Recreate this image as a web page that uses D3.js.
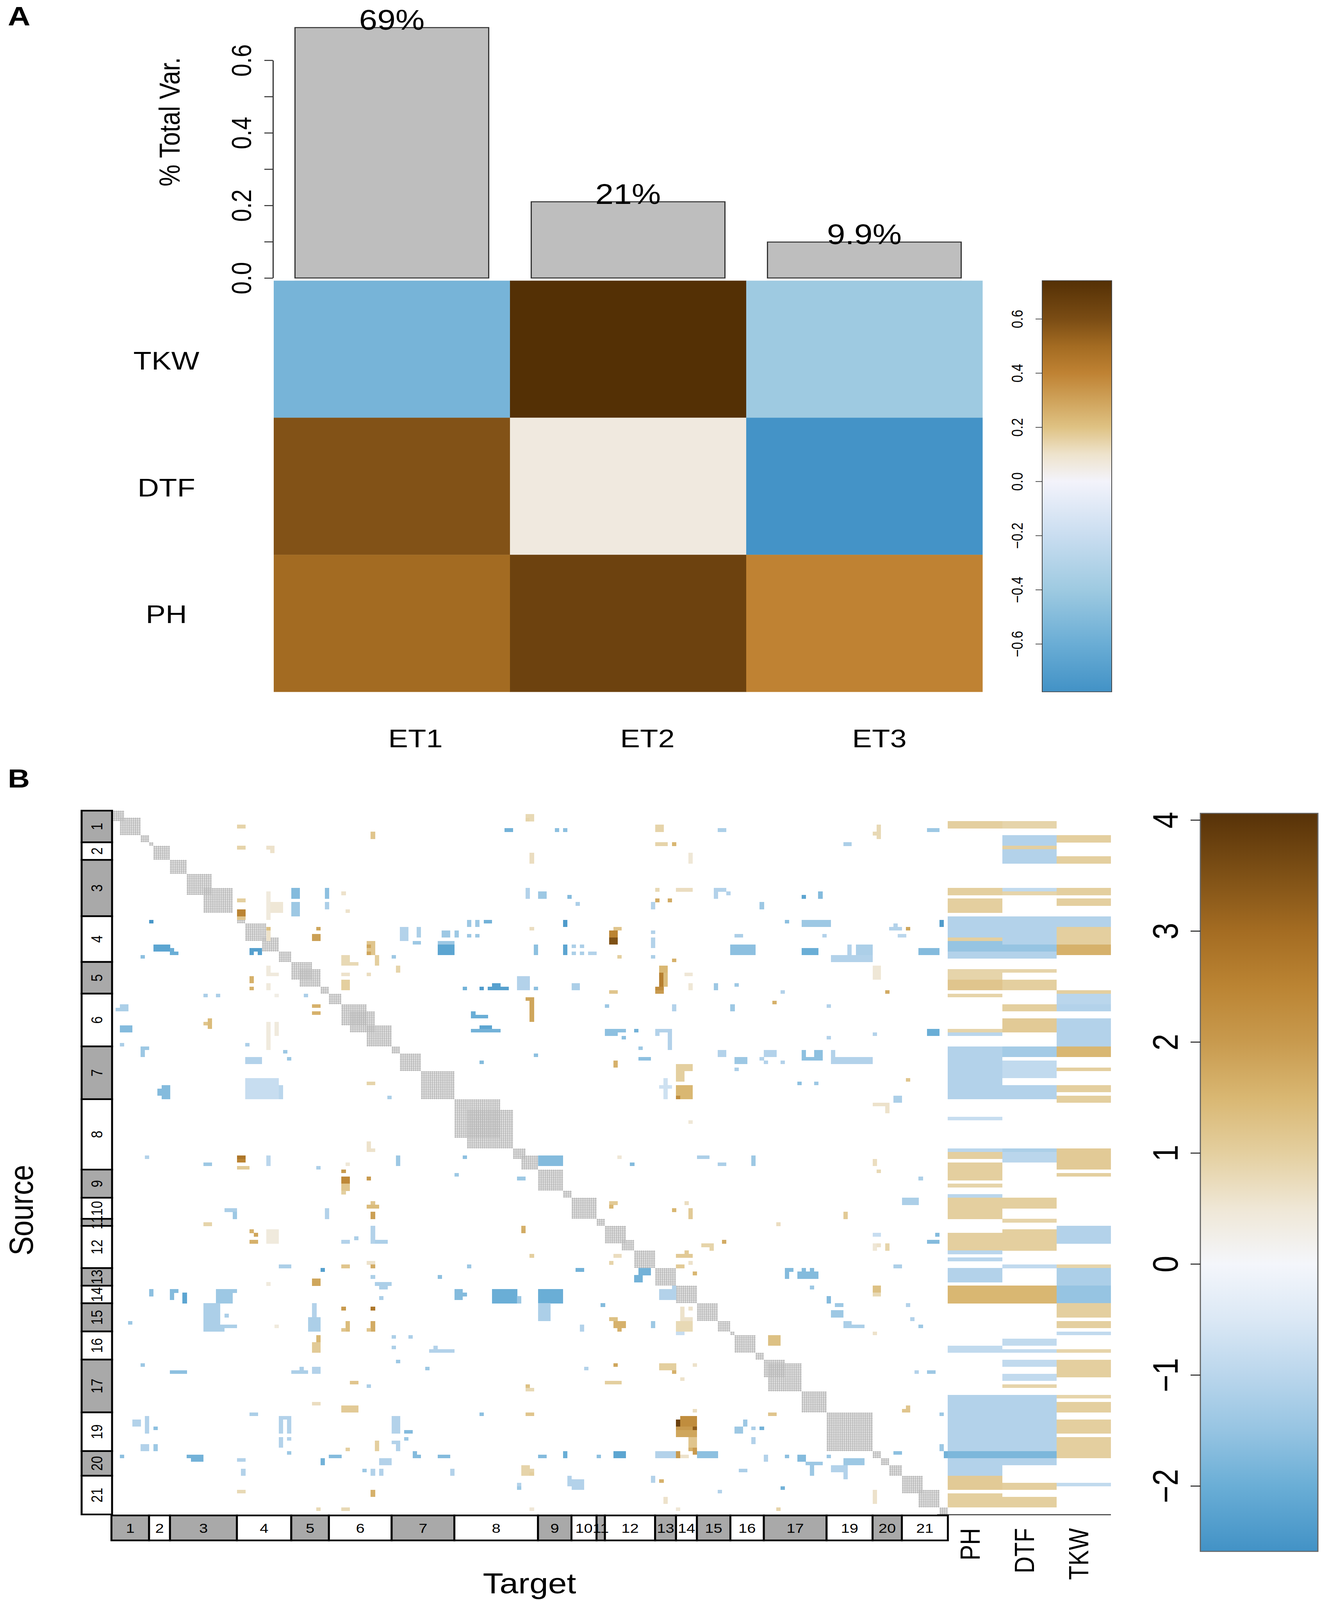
<!DOCTYPE html>
<html>
<head>
<meta charset="utf-8">
<script src="https://cdn.jsdelivr.net/npm/d3@7"></script>
<style>
  html, body { margin: 0; padding: 0; background: #fff; overflow: hidden; }
  svg { display: block; }
  svg text { font-family: "Liberation Sans", Arial, Helvetica, sans-serif; fill: #000; }
</style>
</head>
<body>
<div id="chart"></div>
<script>
// ---------- panel A data ----------
const etNames = ["ET1", "ET2", "ET3"];
const varExplained = [0.69, 0.21, 0.099];
const varLabels = ["69%", "21%", "9.9%"];
const traitsA = ["TKW", "DTF", "PH"];
const loadTKW = [-0.55, 0.74, -0.40];
const loadDTF = [0.58, 0.06, -0.77];
const loadPH = [0.50, 0.65, 0.40];
const barTicks = [0, 0.1, 0.2, 0.3, 0.4, 0.5, 0.6];
const barTickLabels = [0, 0.2, 0.4, 0.6];
const cbTicksA = [-0.6, -0.4, -0.2, 0, 0.2, 0.4, 0.6];
const cbStopsA = [-0.777, -0.6, -0.4, -0.2, 0, 0.1, 0.2, 0.3, 0.4, 0.5, 0.6, 0.741];
const cbColorsA = ["#4292c6", "#6aadd5", "#9ecae1", "#c9ddf0", "#f3f3fb", "#eee3cc",
                   "#dfc283", "#cfa25a", "#bf8233", "#a36b22", "#7a4c14", "#543005"];

// ---------- panel B data ----------
const chromNames = ["1","2","3","4","5","6","7","8","9","10","11","12","13","14","15","16","17","19","20","21"];
const chromMarkers = [9, 5, 16, 13, 9, 15, 15, 20, 8, 6, 2, 12, 5, 5, 8, 8, 15, 11, 7, 11];
// linked (masked) diagonal blocks [from, to)
const linkedBlocks = [[0,3],[2,7],[7,9],[9,10],[10,14],[14,18],[18,24],[22,29],[30,32],[32,37],[36,40],
  [40,43],[43,48],[45,50],[50,52],[52,55],[55,61],[57,63],[61,67],[67,69],[69,74],[74,82],[82,93],[85,96],
  [96,99],[98,102],[102,108],[108,110],[110,116],[116,118],[118,123],[122,125],[125,130],[130,135],[135,140],
  [140,145],[145,148],[148,149],[149,154],[154,156],[156,161],[157,165],[165,171],[171,182],[182,184],
  [184,186],[186,189],[189,194],[193,198],[198,200]];
// epistatic effects: [sourceFrom, sourceTo, targetFrom, targetTo, effect]
const effectPatches = [
  [4,5,30,32,0.9],[6,8,62,63,1.2],[5,6,94,96,-1.9],[10,11,30,32,0.9],[10,11,37,39,0.6],[11,12,38,39,0.6],
  [22,25,43,45,-1.7],[26,30,43,45,-1.4],[22,25,51,52,-1.6],[26,28,51,52,-1.2],[23,24,55,56,0.6],[28,29,56,57,0.6],
  [25,26,30,32,1.0],[28,30,30,32,2.5],[30,31,30,32,1.2],[23,31,37,38,0.4],[26,29,38,41,0.5],[31,32,9,10,-2.5],
  [38,40,10,14,-2.2],[39,40,14,15,-2.0],[40,41,14,16,-2.0],[41,42,7,8,-1.6],[39,40,33,36,-2.3],[40,41,33,34,-2.3],
  [40,41,35,36,-2.3],[33,34,37,38,1.3],[34,37,37,38,0.6],[33,34,49,50,1.8],[35,37,48,50,1.9],[37,41,61,63,1.2],
  [38,39,61,62,1.8],[40,41,61,62,1.8],[41,44,63,64,1.0],[41,44,55,57,0.8],[43,44,57,59,0.8],[41,42,67,68,-1.4],
  [44,46,68,69,0.9],[46,47,61,62,0.7],[46,47,55,57,0.6],[48,51,55,57,1.0],[44,47,37,38,0.4],[46,47,38,40,0.4],
  [47,49,33,34,1.6],[50,51,33,34,1.6],[49,51,37,38,0.4],[52,53,39,40,0.3],[52,53,22,23,-1.2],[52,53,25,26,-1.2],
  [52,53,46,47,-1.2],[50,51,84,85,-1.9],[50,51,88,89,-2.4],[49,50,91,93,-2.3],[50,51,90,95,-2.3],[47,51,98,100,-1.2],
  [55,56,2,4,-1.2],[56,57,1,4,-1.2],[61,63,2,5,-1.7],[66,67,2,3,-1.2],[67,70,7,8,-1.4],[67,68,8,9,-1.4],
  [59,62,23,24,1.4],[60,61,22,23,1.2],[60,68,37,38,0.4],[60,64,39,40,0.4],[55,56,48,50,1.6],[57,58,48,50,1.6],
  [66,67,32,33,-1.2],[68,69,41,42,-1.4],[70,71,42,43,-1.4],[70,72,32,36,-1.1],[76,82,32,40,-0.8],[78,82,40,41,-1.0],
  [78,82,12,14,-1.7],[79,81,11,12,-1.7],[77,78,61,63,0.9],[81,82,66,67,-1.2],[57,59,86,87,-2.0],[58,59,87,90,-2.0],
  [61,62,88,91,-2.2],[62,63,86,93,-1.9],[71,72,88,89,-1.7],[31,33,85,86,-1.4],[31,33,87,88,-1.4],[31,32,89,91,-1.9],
  [35,36,85,86,-1.4],[35,36,87,88,-1.4],[33,37,69,71,-1.1],[33,36,73,74,-1.2],[37,38,72,74,-1.4],[38,41,78,82,-2.2],
  [37,38,78,82,-1.4],[34,36,79,81,-1.4],[34,36,82,83,-1.4],[1,3,99,100,0.9],[98,101,68,69,-1.4],[98,100,30,32,2.8],
  [98,101,37,38,-1.0],[98,99,8,9,-1.1],[98,99,84,85,-1.6],[94,97,61,62,0.6],[96,97,62,63,0.6],
  [100,101,22,24,-1.4],[99,100,30,32,2.5],[101,102,30,33,1.1],[99,100,37,38,-1.0],[101,102,49,50,-1.2],
  [100,101,56,57,0.5],[102,103,55,56,2.0],[104,106,55,57,2.4],[106,108,55,57,1.2],[108,109,55,56,1.0],
  [104,105,61,62,2.0],[111,112,62,63,1.2],[112,113,61,64,1.4],[114,116,62,63,1.9],[113,114,27,30,-1.2],
  [114,116,29,30,-1.4],[113,116,51,52,-1.1],[117,118,22,24,0.9],[119,120,33,34,1.6],[120,121,34,35,1.8],
  [122,123,33,35,1.6],[119,123,37,40,0.4],[122,123,55,57,-1.1],[121,122,58,59,-1.2],[118,123,62,63,-1.1],
  [122,123,63,66,-1.2],[119,120,98,99,1.7],[129,130,40,43,-1.2],[130,131,50,51,-2.3],[129,130,55,57,1.2],
  [128,129,61,63,0.6],[129,130,62,63,1.7],[132,133,62,63,-1.2],[134,135,63,67,-1.2],[135,136,64,66,-1.2],
  [132,133,78,79,-1.6],[129,130,85,86,-1.4],[133,135,48,50,1.8],[134,135,37,38,0.4],[136,138,9,10,-1.6],
  [136,139,14,15,-1.7],[136,137,15,16,-1.7],[137,140,17,18,-2.2],[136,137,25,30,-1.4],[137,140,25,29,-1.4],
  [140,146,22,26,-1.2],[146,148,22,27,-1.2],[146,147,27,30,-1.2],[143,144,27,28,-1.2],[145,146,4,5,-1.4],
  [138,139,64,65,-1.2],[136,139,82,84,-1.7],[137,138,84,85,-1.7],[136,140,91,97,-2.0],[138,140,97,98,-2.0],
  [141,142,55,56,2.0],[141,142,62,63,2.8],[140,147,48,49,-1.1],[144,148,47,50,-1.2],[145,148,56,57,1.4],
  [147,148,55,56,1.2],[145,148,62,63,1.7],[147,148,61,62,1.2],[146,147,39,40,0.4],[149,151,49,50,1.5],
  [151,154,48,50,1.1],[149,150,67,68,-1.2],[149,150,71,72,-1.2],[152,153,67,68,-1.2],[153,154,76,82,-1.1],
  [152,153,77,78,-1.1],[157,158,7,8,-1.4],[159,160,14,18,-1.6],[159,160,43,47,-1.2],[158,159,45,46,-1.2],
  [158,160,48,50,-1.1],[156,157,68,69,-1.4],[158,159,75,76,-1.4],[162,163,57,59,1.2],[163,164,61,62,-1.2],
  [168,169,48,50,0.7],[169,171,55,59,1.1],[171,172,33,35,-1.2],[172,173,40,43,-1.1],[173,177,40,41,-1.1],
  [173,177,42,43,-1.1],[178,181,40,41,-1.1],[178,179,42,43,-1.1],[173,175,5,7,-1.1],[172,177,8,9,-1.1],
  [175,176,10,11,-1.6],[180,182,7,9,-1.1],[180,182,10,11,-1.4],[183,184,2,3,-1.6],[183,184,18,22,-1.9],
  [184,185,19,22,-1.9],[184,185,30,32,-1.1],[187,189,31,32,-1.1],[182,183,42,43,-1.4],[184,186,50,51,-1.9],
  [183,184,52,55,-1.7],[181,182,56,57,1.0],[179,182,63,64,1.0],[179,182,68,69,-1.1],[179,180,67,68,-1.1],
  [178,179,70,71,-1.4],[176,177,70,72,-1.7],[172,177,67,69,-1.1],[183,184,72,74,-1.7],[182,183,72,73,-1.7],
  [183,184,78,81,-1.7],[184,186,64,67,-1.1],[187,188,60,61,-1.4],[187,189,62,63,-1.1],[187,189,64,65,-1.1],
  [187,189,81,82,-1.1],[192,193,97,98,-1.4],[186,189,98,100,0.9],[193,194,30,32,0.8],[193,195,62,63,1.6],
  [198,199,49,50,0.8],[198,199,55,57,0.8],[103,104,82,83,-1.4],[104,105,97,99,-1.4],[163,165,99,100,0.9],
  [171,172,88,89,-1.6],
  [1,2,99,100,0.8],[1,3,100,101,0.8],[5,6,106,107,-1.6],[5,6,108,109,-1.6],[4,6,130,132,0.9],[9,10,130,133,0.9],
  [9,10,134,135,1.5],[5,6,145,147,-1.2],[4,8,183,184,0.8],[6,7,182,183,0.8],[5,6,195,198,-1.4],[9,10,175,177,-1.2],
  [12,15,100,101,0.7],[12,15,138,139,0.5],[22,25,99,100,-1.1],[23,25,102,104,-1.4],[24,25,109,110,-1.7],
  [26,27,111,112,-1.2],[22,23,130,131,0.8],[22,23,135,139,0.7],[25,26,130,131,1.7],[25,26,133,134,1.7],
  [26,28,129,130,-1.1],[22,23,144,147,-1.1],[23,25,144,145,-1.1],[23,24,147,148,-1.1],[26,28,155,156,-1.4],
  [24,25,165,166,-2.2],[23,25,169,170,-1.7],[31,33,108,109,-2.4],[33,34,100,101,0.7],[33,34,120,122,1.2],
  [34,36,119,121,2.5],[36,38,119,121,3.5],[41,42,121,122,1.0],[34,35,129,130,-1.1],[36,39,129,130,-1.1],
  [41,42,129,130,-1.2],[38,41,101,102,-1.6],[38,41,108,109,-2.2],[38,39,110,111,-1.2],[38,39,112,113,-1.2],
  [40,41,110,111,-1.2],[40,41,112,113,-1.2],[40,41,114,116,-1.1],[35,36,149,151,-1.2],[38,41,148,154,-1.6],
  [31,32,161,162,-1.6],[31,33,165,172,-1.4],[35,36,170,171,-1.1],[39,41,165,169,-2.0],[41,43,172,182,-1.1],
  [38,41,178,182,-1.2],[38,41,176,177,-1.1],[33,34,186,189,-1.1],[32,33,187,188,-1.1],[33,34,190,191,1.8],
  [35,36,188,190,-1.0],[39,41,193,198,-1.7],[31,33,198,199,-2.4],[42,43,134,135,1.6],[44,46,131,133,1.5],
  [46,50,131,132,2.6],[46,50,132,133,1.4],[50,51,130,132,2.3],[51,52,130,132,2.0],[46,47,137,139,0.5],
  [49,51,138,139,0.5],[51,52,119,121,1.2],[47,51,97,100,-1.1],[50,51,101,102,-1.6],[53,54,99,101,1.8],
  [54,60,100,101,1.8],[49,51,110,112,-1.2],[49,51,144,145,-1.4],[49,50,149,150,-1.4],[55,56,118,119,-1.4],
  [55,57,134,135,-1.1],[55,57,148,149,-1.4],[54,55,158,159,1.6],[51,52,160,161,-1.1],[55,56,171,172,-1.1],
  [51,52,185,186,1.7],[44,48,182,184,0.5],[62,63,118,123,-1.6],[63,64,118,121,-1.6],[64,65,122,123,-1.6],
  [62,63,125,126,-1.9],[62,63,130,134,-1.1],[63,64,130,131,-1.1],[63,68,133,134,-1.1],[67,68,126,127,-1.4],
  [70,71,126,129,-1.6],[69,70,101,102,-1.6],[71,73,120,121,1.6],[68,70,145,147,-1.1],[70,72,149,152,-1.4],
  [73,74,149,150,-1.2],[68,70,156,159,-1.1],[70,71,155,156,-1.1],[71,72,156,157,-1.1],[71,72,160,161,-1.1],
  [68,70,165,166,-1.6],[70,71,165,170,-1.6],[68,71,168,170,-1.6],[68,71,172,173,-1.1],[70,72,172,182,-1.1],
  [62,64,195,198,-2.0],[64,65,171,172,-1.1],[63,64,182,183,-1.1],[72,74,135,139,1.0],[74,77,135,137,1.0],
  [78,82,135,139,1.5],[81,82,135,136,2.3],[76,82,132,133,-0.7],[78,79,131,134,-0.7],[77,78,164,165,-1.6],
  [77,78,168,169,-1.4],[76,77,190,191,1.2],[81,83,187,189,-1.2],[83,84,182,186,0.6],[84,86,185,186,0.6],
  [88,89,138,139,0.5],[98,99,121,122,0.5],[98,101,102,108,-1.7],[98,99,140,143,-1.2],[98,101,153,154,-1.4],
  [99,101,182,183,0.7],
  [100,101,124,125,-1.7],[100,101,145,147,-1.2],[102,103,183,184,0.8],[104,105,193,194,-1.2],[118,119,98,99,1.6],
  [111,112,119,121,1.1],[112,113,119,120,1.5],[111,112,137,138,0.7],[113,114,134,135,1.5],[113,116,138,139,1.1],
  [114,116,175,176,1.1],[117,118,159,160,0.7],[110,112,189,193,-1.2],[120,121,182,184,-0.8],[120,121,197,198,-1.7],
  [122,123,195,198,-1.7],[122,123,146,147,1.7],[123,124,141,144,0.9],[124,125,143,144,0.9],[123,125,182,183,0.5],
  [123,124,183,184,0.6],[123,125,185,186,0.9],[126,127,100,101,1.0],[126,127,120,122,0.7],[128,129,119,120,0.9],
  [126,127,135,139,1.1],[125,126,137,138,1.1],[129,130,135,137,1.1],[128,129,138,139,0.6],[131,132,139,140,1.5],
  [130,131,111,113,-1.9],[130,132,126,129,-1.9],[132,134,125,127,-1.9],[129,130,187,189,-1.2],[130,133,161,162,-1.7],
  [130,131,162,163,-1.7],[131,133,164,169,-1.7],[130,131,165,166,-1.7],[130,131,167,168,-1.7],[135,136,167,168,-1.4],
  [136,139,131,135,-1.1],[135,136,134,135,-1.1],[136,140,102,108,-2.0],[140,145,102,105,-1.2],[138,140,97,98,-1.4],
  [140,141,117,118,-1.7],[138,140,171,172,-1.7],[140,141,173,175,-1.4],[142,144,172,175,-1.4],[146,147,175,180,-1.2],
  [145,146,175,177,-1.2],[140,141,190,191,-1.1],[144,145,191,192,-1.1],[146,147,193,194,-1.4],[135,137,182,184,1.3],
  [137,138,182,184,0.8],[141,144,136,137,0.6],[144,145,136,139,0.6],[141,142,138,139,0.6],[145,148,135,139,0.8],
  [148,149,135,137,-0.8],[144,145,119,121,1.3],[145,147,120,123,1.6],[147,148,121,122,1.6],[145,147,129,130,-1.4],
  [146,148,112,113,-1.1],[148,149,182,183,0.6],[149,152,157,160,1.3],[157,158,120,121,1.8],[157,159,131,135,1.0],
  [159,160,134,135,1.6],[158,159,113,114,-1.1],[157,158,139,140,0.6],[161,162,136,137,0.6],[162,163,118,122,1.0],
  [159,160,192,193,-1.1],[159,160,195,197,-1.4],[163,164,99,100,1.3],[164,165,99,101,0.8],[171,172,99,101,1.2],
  [170,171,139,140,0.7],[171,172,157,159,1.2],[170,171,189,191,1.2],[169,170,190,191,1.2],[171,172,198,199,-1.4],
  [172,175,136,140,2.3],[173,175,135,136,3.8],[175,176,139,140,3.3],[175,176,135,139,2.0],[176,178,135,140,1.8],
  [178,181,138,140,1.2],[181,183,139,140,2.0],[181,182,138,139,1.6],[173,175,151,152,-1.4],[175,177,149,151,-1.4],
  [175,176,153,154,-1.2],[175,176,155,156,-1.9],[178,180,153,154,-1.1],[180,182,198,199,-1.4],[182,184,199,200,-1.9],
  [183,184,102,104,-1.7],[182,184,108,109,-2.0],[183,184,116,117,-1.6],[182,184,120,123,-2.2],[182,184,130,135,-1.1],
  [182,184,135,136,2.0],[183,184,136,138,0.6],[182,184,140,145,-1.6],[183,185,156,157,-1.1],[183,184,161,162,-1.6],
  [183,185,164,166,-1.7],[185,186,166,170,-1.4],[186,189,167,168,-1.4],[183,184,171,172,-1.4],[184,186,175,180,-1.4],
  [186,188,172,176,-1.1],[188,190,175,176,-1.1],[182,183,187,189,-1.6],[187,188,150,152,-1.2],[187,188,98,101,0.9],
  [188,189,100,101,1.0],[189,192,109,110,-1.1],[190,193,110,113,-1.1],[191,192,97,98,-1.1],[189,191,129,130,-1.1],
  [190,191,131,132,1.6],[192,193,160,161,-1.9],[193,194,145,146,-1.1],[195,197,132,133,0.6],[193,197,182,183,0.6],
  [198,199,100,101,0.5],[198,199,135,136,0.5],[198,199,159,160,0.9]
];
// single-locus effects per trait: [markerFrom, markerTo, effect]
const stripesPH = [[3,5,1.0],[22,24,1.0],[25,29,1.0],[30,33,-1.1],[33,36,-1.1],[36,37,1.0],[37,40,-1.5],[40,42,-1.1],
  [45,48,0.9],[48,51,1.2],[52,53,0.9],[62,63,0.9],[63,64,-1.0],[67,76,-1.1],[76,82,-1.1],[87,88,-0.8],[96,97,-1.0],
  [97,99,1.0],[100,105,1.0],[106,107,0.9],[109,110,-1.0],[110,116,1.0],[120,125,1.0],[125,126,-1.0],[127,128,-1.0],
  [130,134,-1.1],[135,140,1.5],[152,154,-0.9],[166,182,-1.1],[182,184,-1.8],[184,189,-1.1],[189,193,1.1],[194,198,1.0]];
const stripesDTF = [[3,5,0.9],[7,10,-1.1],[10,11,1.0],[11,15,-1.1],[22,23,-0.9],[23,24,0.9],[30,33,-1.1],[33,38,-1.1],
  [38,40,-1.5],[40,42,-1.1],[45,46,0.9],[48,51,1.0],[55,57,1.0],[59,63,1.1],[67,70,-1.3],[71,72,-0.9],[72,76,-0.9],
  [78,82,-1.1],[96,97,-1.2],[97,100,-1.0],[110,113,1.0],[116,117,0.9],[119,125,1.0],[129,130,-0.9],[135,140,1.5],
  [150,152,-0.9],[153,154,-0.9],[156,158,-0.9],[160,162,-0.9],[163,164,0.9],[166,182,-1.1],[182,184,-1.8],
  [184,186,-1.1],[191,193,1.0],[195,198,1.0]];
const stripesTKW = [[7,9,1.0],[13,15,1.0],[22,24,1.0],[25,27,1.0],[30,33,-1.1],[33,38,1.0],[38,41,1.6],[51,52,1.0],
  [52,55,-1.0],[55,57,-1.1],[59,67,-1.1],[67,70,1.5],[73,74,1.0],[78,80,1.0],[81,83,1.0],[96,102,1.1],[103,104,1.0],
  [118,123,-1.1],[129,130,0.9],[130,135,-1.2],[135,140,-1.5],[140,144,1.0],[145,147,1.0],[148,149,-0.9],[153,154,0.9],
  [156,161,1.0],[166,167,0.9],[168,171,1.0],[173,177,1.0],[178,184,1.0],[191,192,-0.9]];
const traitsB = ["PH", "DTF", "TKW"];
const cbTicksB = [-2, -1, 0, 1, 2, 3, 4];
const cbStopsB = [-2.59, -2, -1.5, -1, -0.5, 0, 0.5, 1, 1.5, 2, 2.5, 3, 3.5, 4.06];
const cbColorsB = ["#4292c6", "#6aaed6", "#96c4e2", "#bad6ec", "#dbe8f5", "#f4f6fb", "#efe7d6",
                   "#e4cf9f", "#d9b772", "#c89a4e", "#bb8433", "#a46c22", "#7f5116", "#573208"];

const W = 3383, H = 4806;
// the window can be shorter than the drawing: map the whole figure onto it
const vw = Math.min(W, window.innerWidth || W), vh = Math.min(H, window.innerHeight || H);
const svg = d3.select("#chart").append("svg")
    .attr("width", vw).attr("height", vh)
    .attr("viewBox", `0 0 ${W} ${H}`)
    .attr("preserveAspectRatio", "none");
svg.append("rect").attr("width", W).attr("height", H).attr("fill", "#fff");
const defs = svg.append("defs");

function addGradient(id, stops, colors) {
  // vertical gradient, bottom = lowest value
  const [lo, hi] = d3.extent(stops);
  const g = defs.append("linearGradient").attr("id", id)
      .attr("x1", 0).attr("y1", 1).attr("x2", 0).attr("y2", 0);
  stops.forEach((s, i) => {
    g.append("stop").attr("offset", (s - lo) / (hi - lo)).attr("stop-color", colors[i]);
  });
}

// ================= Panel A =================
svg.append("text").attr("x", 20).attr("y", 76)
    .attr("font-size", 80).attr("font-weight", "bold").text("A");

const xA = d3.scaleBand().domain(etNames).range([701, 2516]);
const yA = d3.scaleBand().domain(traitsA).range([843, 2078]);
const yBar = d3.scaleLinear().domain([0, 0.6]).range([835, 181]);
const colA = d3.scaleLinear().domain(cbStopsA).range(cbColorsA).clamp(true);

// bars of explained variance
const barG = svg.append("g");
barG.selectAll("rect").data(varExplained).join("rect")
    .attr("x", (d, i) => xA(etNames[i]) + xA.bandwidth() * 0.09)
    .attr("width", xA.bandwidth() * 0.82)
    .attr("y", d => yBar(d))
    .attr("height", d => yBar(0) - yBar(d))
    .attr("fill", "#bebebe").attr("stroke", "#333").attr("stroke-width", 3);
barG.selectAll("text").data(varExplained).join("text")
    .attr("x", (d, i) => xA(etNames[i]) + xA.bandwidth() / 2)
    .attr("y", d => yBar(d) + 6)
    .attr("text-anchor", "middle").attr("font-size", 84)
    .text((d, i) => varLabels[i]);

const barAxis = svg.append("g").attr("transform", "translate(699,0)")
    .call(d3.axisLeft(yBar).tickValues(barTicks).tickSize(22).tickSizeOuter(0)
      .tickFormat(d => barTickLabels.some(v => Math.abs(v - d) < 1e-9) ? d3.format(".1f")(d) : ""));
barAxis.selectAll("path, line").attr("stroke", "#333").attr("stroke-width", 3);
barAxis.selectAll("text").attr("x", null).attr("dy", null)
    .attr("text-anchor", "middle").attr("font-size", 70)
    .attr("transform", "translate(-56,0) rotate(-90)");
svg.append("text").attr("transform", "translate(460,366) rotate(-90)")
    .attr("text-anchor", "middle").attr("font-size", 74).text("% Total Var.");

// loading heatmap
const loadRows = [loadTKW, loadDTF, loadPH];
const cellsA = [];
loadRows.forEach((row, r) => row.forEach((v, c) => cellsA.push({t: traitsA[r], e: etNames[c], v: v})));
svg.append("g").selectAll("rect").data(cellsA).join("rect")
    .attr("x", d => xA(d.e)).attr("y", d => yA(d.t))
    .attr("width", xA.bandwidth() + 0.5).attr("height", yA.bandwidth() + 0.5)
    .attr("fill", d => colA(d.v));

const rowLab = d3.scalePoint().domain(traitsA).range([1083, 1845]);
svg.append("g").selectAll("text").data(traitsA).join("text")
    .attr("x", 426).attr("y", d => rowLab(d) + 27)
    .attr("text-anchor", "middle").attr("font-size", 76).text(d => d);
const colLab = d3.scalePoint().domain(etNames).range([1064, 2252]);
svg.append("g").selectAll("text").data(etNames).join("text")
    .attr("x", d => colLab(d)).attr("y", 2245)
    .attr("text-anchor", "middle").attr("font-size", 76).text(d => d);

// colour key A
const cbA = d3.scaleLinear().domain([cbStopsA[0], cbStopsA[cbStopsA.length - 1]]).range([2078, 843]);
addGradient("gradA", cbStopsA, cbColorsA);
svg.append("rect").attr("x", 2669).attr("y", 843).attr("width", 178).attr("height", 2078 - 843)
    .attr("fill", "url(#gradA)").attr("stroke", "#444").attr("stroke-width", 2);
const cbAxisA = svg.append("g").attr("transform", "translate(2669,0)")
    .call(d3.axisLeft(cbA).tickValues(cbTicksA).tickSize(17).tickSizeOuter(0).tickFormat(d3.format(".1f")));
cbAxisA.select(".domain").remove();
cbAxisA.selectAll("line").attr("stroke", "#333").attr("stroke-width", 2);
cbAxisA.selectAll("text").attr("x", null).attr("dy", null)
    .attr("text-anchor", "middle").attr("font-size", 40)
    .attr("transform", "translate(-50,0) rotate(-90)");

// ================= Panel B =================
svg.append("text").attr("x", 20).attr("y", 2366)
    .attr("font-size", 78).attr("font-weight", "bold").text("B");

const nMarkers = d3.sum(chromMarkers);
const xB = d3.scaleLinear().domain([0, nMarkers]).range([285.4, 2427.4]);
const yB = d3.scaleLinear().domain([0, nMarkers]).range([2435, 4549]);
const colB = d3.scaleLinear().domain(cbStopsB).range(cbColorsB).clamp(true);
const cw = xB(1) - xB(0), ch = yB(1) - yB(0);

// dotted grey pattern for linked blocks on the diagonal
const pat = defs.append("pattern").attr("id", "dots").attr("patternUnits", "userSpaceOnUse")
    .attr("x", xB(0)).attr("y", yB(0)).attr("width", cw / 2).attr("height", ch / 2);
pat.append("circle").attr("cx", cw / 4).attr("cy", ch / 4).attr("r", 2.5).attr("fill", "#b8b8b8");

const matG = svg.append("g").attr("shape-rendering", "crispEdges");
matG.selectAll("rect.link").data(linkedBlocks).join("rect").attr("class", "link")
    .attr("x", d => xB(d[0])).attr("y", d => yB(d[0]))
    .attr("width", d => xB(d[1]) - xB(d[0])).attr("height", d => yB(d[1]) - yB(d[0]))
    .attr("fill", "url(#dots)");
matG.selectAll("rect.eff").data(effectPatches).join("rect").attr("class", "eff")
    .attr("x", d => xB(d[2])).attr("y", d => yB(d[0]))
    .attr("width", d => xB(d[3]) - xB(d[2]) + 0.4).attr("height", d => yB(d[1]) - yB(d[0]) + 0.4)
    .attr("fill", d => colB(d[4]));

// single-locus columns
const xT = d3.scaleBand().domain(traitsB).range([2427.4, 2845]);
const stripeSets = [stripesPH, stripesDTF, stripesTKW];
const stripes = [];
stripeSets.forEach((set, k) => set.forEach(s => stripes.push({t: traitsB[k], s: s})));
matG.selectAll("rect.trait").data(stripes).join("rect").attr("class", "trait")
    .attr("x", d => xT(d.t)).attr("width", xT.bandwidth())
    .attr("y", d => yB(d.s[0])).attr("height", d => yB(d.s[1]) - yB(d.s[0]) + 0.4)
    .attr("fill", d => colB(d.s[2]));
svg.append("line").attr("x1", 2400).attr("x2", 2845).attr("y1", 4550).attr("y2", 4550)
    .attr("stroke", "#333").attr("stroke-width", 3);
svg.append("g").selectAll("text").data(traitsB).join("text")
    .attr("transform", d => `translate(${xT(d) + xT.bandwidth() / 2 + 12},4590) rotate(-90)`)
    .attr("text-anchor", "end").attr("font-size", 70).text(d => d);

// chromosome boxes
const chromStart = [0].concat(Array.from(d3.cumsum(chromMarkers)));
const chroms = chromNames.map((n, i) => ({name: n, a: chromStart[i], b: chromStart[i + 1], i: i}));
const boxG = svg.append("g");
boxG.selectAll("rect.left").data(chroms).join("rect").attr("class", "left")
    .attr("x", 209).attr("width", 78)
    .attr("y", d => yB(d.a)).attr("height", d => yB(d.b) - yB(d.a))
    .attr("fill", d => d.i % 2 === 0 ? "#a9a9a9" : "#fff")
    .attr("stroke", "#000").attr("stroke-width", 5);
boxG.selectAll("rect.bottom").data(chroms).join("rect").attr("class", "bottom")
    .attr("y", 4552).attr("height", 75)
    .attr("x", d => xB(d.a)).attr("width", d => xB(d.b) - xB(d.a))
    .attr("fill", d => d.i % 2 === 0 ? "#a9a9a9" : "#fff")
    .attr("stroke", "#000").attr("stroke-width", 5);
boxG.selectAll("text.left").data(chroms).join("text").attr("class", "left")
    .attr("transform", d => `translate(262,${(yB(d.a) + yB(d.b)) / 2}) rotate(-90)`)
    .attr("text-anchor", "middle").attr("font-size", 40).text(d => d.name);
boxG.selectAll("text.bottom").data(chroms).join("text").attr("class", "bottom")
    .attr("x", d => (xB(d.a) + xB(d.b)) / 2).attr("y", 4604)
    .attr("text-anchor", "middle").attr("font-size", 40).text(d => d.name);

svg.append("text").attr("transform", "translate(84,3635) rotate(-90)")
    .attr("text-anchor", "middle").attr("font-size", 86).text("Source");
svg.append("text").attr("x", 1356).attr("y", 4786)
    .attr("text-anchor", "middle").attr("font-size", 86).text("Target");

// colour key B
const cbB = d3.scaleLinear().domain([cbStopsB[0], cbStopsB[cbStopsB.length - 1]]).range([4660, 2443]);
addGradient("gradB", cbStopsB, cbColorsB);
svg.append("rect").attr("x", 3074).attr("y", 2443).attr("width", 301).attr("height", 4660 - 2443)
    .attr("fill", "url(#gradB)").attr("stroke", "#666").attr("stroke-width", 3);
const cbAxisB = svg.append("g").attr("transform", "translate(3074,0)")
    .call(d3.axisLeft(cbB).tickValues(cbTicksB).tickSize(25).tickSizeOuter(0).tickFormat(d3.format("d")));
cbAxisB.select(".domain").remove();
cbAxisB.selectAll("line").attr("stroke", "#222").attr("stroke-width", 3);
cbAxisB.selectAll("text").attr("x", null).attr("dy", null)
    .attr("text-anchor", "middle").attr("font-size", 90)
    .text(d => d < 0 ? "\u2212" + Math.abs(d) : d)
    .attr("transform", "translate(-58,0) rotate(-90)");
</script>
</body>
</html>
